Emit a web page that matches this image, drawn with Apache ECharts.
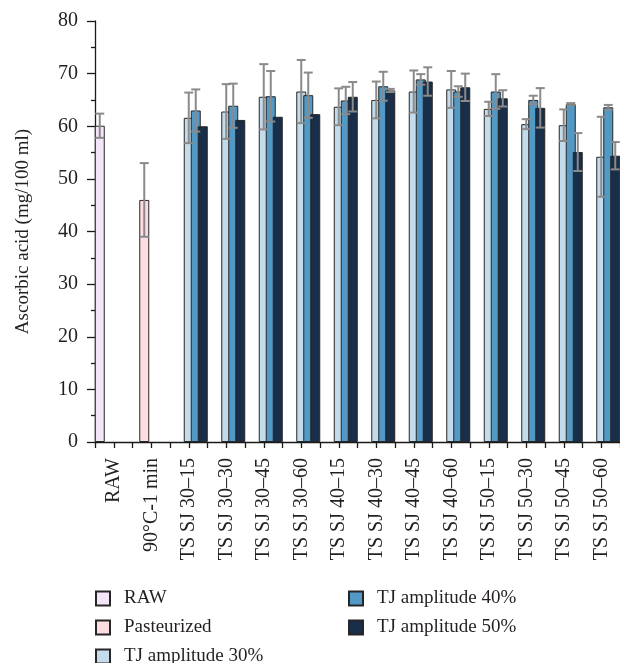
<!DOCTYPE html>
<html>
<head>
<meta charset="utf-8">
<script src="https://cdn.jsdelivr.net/npm/echarts@6/dist/echarts.min.js"></script>
<style>
  html, body { margin: 0; padding: 0; background: #fff; }
  #chart { width: 620px; height: 663px; }
</style>
</head>
<body>
<div id="chart"></div>
<script>
// Ascorbic acid content per treatment (mg/100 ml), mean and standard deviation
const categories = [
  'RAW', '90°C-1 min',
  'TS SJ 30–15', 'TS SJ 30–30', 'TS SJ 30–45', 'TS SJ 30–60',
  'TS SJ 40–15', 'TS SJ 40–30', 'TS SJ 40–45', 'TS SJ 40–60',
  'TS SJ 50–15', 'TS SJ 50–30', 'TS SJ 50–45', 'TS SJ 50–60'
];
const seriesNames = ['RAW', 'Pasteurized', 'TJ amplitude 30%', 'TJ amplitude 40%', 'TJ amplitude 50%'];

const rawValues  = [60.1, '-', '-', '-', '-', '-', '-', '-', '-', '-', '-', '-', '-', '-'];
const rawErr     = [2.3, 0, 0, 0, 0, 0, 0, 0, 0, 0, 0, 0, 0, 0];
const pastValues = ['-', 46.0, '-', '-', '-', '-', '-', '-', '-', '-', '-', '-', '-', '-'];
const pastErr    = [0, 7.0, 0, 0, 0, 0, 0, 0, 0, 0, 0, 0, 0, 0];
const tj30Values = ['-', '-', 61.6, 62.8, 65.6, 66.6, 63.7, 65.0, 66.6, 67.0, 63.3, 60.4, 60.2, 54.2];
const tj30Err    = [0, 0, 4.8, 5.2, 6.2, 6.0, 3.5, 3.5, 4.0, 3.5, 1.35, 0.95, 3.0, 7.6];
const tj40Values = ['-', '-', 63.0, 63.9, 65.7, 65.9, 64.9, 67.6, 68.9, 66.6, 66.6, 65.0, 64.2, 63.6];
const tj40Err    = [0, 0, 4.0, 4.2, 4.8, 4.3, 2.6, 2.75, 1.0, 1.0, 3.3, 0.8, 0.2, 0.45];
const tj50Values = ['-', '-', 60.0, 61.2, 61.8, 62.3, 65.6, 66.8, 68.5, 67.4, 65.3, 63.5, 55.1, 54.4];
const tj50Err    = [0, 0, 0, 0, 0, 0, 2.8, 0.3, 2.7, 2.6, 1.55, 3.75, 3.6, 2.6];

const yTicks = { min: 0, max: 80, interval: 10 };

const seriesValues = [rawValues, pastValues, tj30Values, tj40Values, tj50Values];
const seriesErrors = [rawErr, pastErr, tj30Err, tj40Err, tj50Err];
const seriesColors = ['#f5e5f8', '#fddde2', '#c4dbeb', '#5399c6', '#182e49'];

// legend entry placement: two columns, three rows
const legendSlots = [[95, 589], [95, 618], [95, 647], [348, 589], [348, 618]];

const FONT = "'Liberation Serif', 'Times New Roman', serif";
const TEXT = '#231f20';
const BAR_WIDTH = 10;
const BAR_GAP = -0.3;                        // bars overlap by 30 % of their width
const SLOT_STEP = BAR_WIDTH * (1 + BAR_GAP); // centre-to-centre distance in a group
const N_SERIES = seriesNames.length;

// error bar records: [category index, mean, sd, slot]
const errData = [];
seriesValues.forEach((vals, s) => {
  vals.forEach((v, i) => {
    const e = seriesErrors[s][i];
    if (v !== '-' && e > 0) errData.push([i, v, e, s]);
  });
});

function renderErrorBar(params, api) {
  const cat = api.value(0), mean = api.value(1), sd = api.value(2), slot = api.value(3);
  const off = (slot - (N_SERIES - 1) / 2) * SLOT_STEP;
  const hi = api.coord([cat, mean + sd]);
  const lo = api.coord([cat, mean - sd]);
  const x = hi[0] + off;
  const cap = 4.5;
  const style = { stroke: '#8a8a8a', lineWidth: 2 };
  return {
    type: 'group',
    children: [
      { type: 'line', shape: { x1: x, y1: hi[1], x2: x, y2: lo[1] }, style },
      { type: 'line', shape: { x1: x - cap, y1: hi[1], x2: x + cap, y2: hi[1] }, style },
      { type: 'line', shape: { x1: x - cap, y1: lo[1], x2: x + cap, y2: lo[1] }, style }
    ]
  };
}

const chart = echarts.init(document.getElementById('chart'), null, { renderer: 'canvas' });

const barSeries = seriesNames.map((name, s) => ({
  name,
  type: 'bar',
  xAxisIndex: 0,
  data: seriesValues[s],
  barWidth: BAR_WIDTH,
  barGap: (BAR_GAP * 100) + '%',
  itemStyle: { color: seriesColors[s], borderColor: '#262626', borderWidth: 1 },
  emphasis: { disabled: true },
  animation: false
}));

const legends = seriesNames.map((name, s) => ({
  data: [name],
  orient: 'horizontal',
  left: legendSlots[s][0],
  top: legendSlots[s][1],
  padding: 0,
  itemWidth: 14, itemHeight: 14,
  icon: 'rect',
  selectedMode: false,
  textStyle: { fontFamily: FONT, fontSize: 19, color: TEXT, lineHeight: 18, padding: [0, 0, 0, 9] }
}));

chart.setOption({
  backgroundColor: '#ffffff',
  animation: false,
  grid: { left: 95, right: 0, top: 21, bottom: 221, containLabel: false },
  legend: legends,
  xAxis: [
    {
      type: 'category',
      data: categories,
      position: 'bottom',
      axisLine: { show: true, lineStyle: { color: '#1a1a1a', width: 1.3 } },
      axisTick: { show: true, alignWithLabel: true, length: 6, lineStyle: { color: '#1a1a1a', width: 1.3 } },
      axisLabel: {
        rotate: 90, interval: 0, margin: 16,
        fontFamily: FONT, fontSize: 20, color: TEXT
      }
    },
    {
      // boundary ticks between categories
      type: 'category',
      data: categories,
      position: 'bottom',
      offset: 0,
      axisLine: { show: false },
      axisTick: { show: true, length: 6, interval: 0, lineStyle: { color: '#1a1a1a', width: 1.3 } },
      axisLabel: { show: false }
    }
  ],
  yAxis: {
    type: 'value',
    min: yTicks.min, max: yTicks.max, interval: yTicks.interval,
    name: 'Ascorbic acid (mg/100 ml)',
    nameLocation: 'middle',
    nameGap: 62,
    nameTextStyle: { fontFamily: FONT, fontSize: 19, color: TEXT },
    axisLine: { show: true, lineStyle: { color: '#1a1a1a', width: 1.3 } },
    axisTick: { show: true, length: 8, lineStyle: { color: '#1a1a1a', width: 1.3 } },
    minorTick: { show: true, splitNumber: 2, length: 4, lineStyle: { color: '#1a1a1a', width: 1.3 } },
    splitLine: { show: false },
    axisLabel: { margin: 17, fontFamily: FONT, fontSize: 20, color: TEXT }
  },
  series: barSeries.concat([
    {
      name: 'sd',
      type: 'custom',
      xAxisIndex: 0,
      renderItem: renderErrorBar,
      data: errData,
      encode: { x: 0, y: 1 },
      z: 10,
      silent: true,
      animation: false
    }
  ])
});
</script>
</body>
</html>
